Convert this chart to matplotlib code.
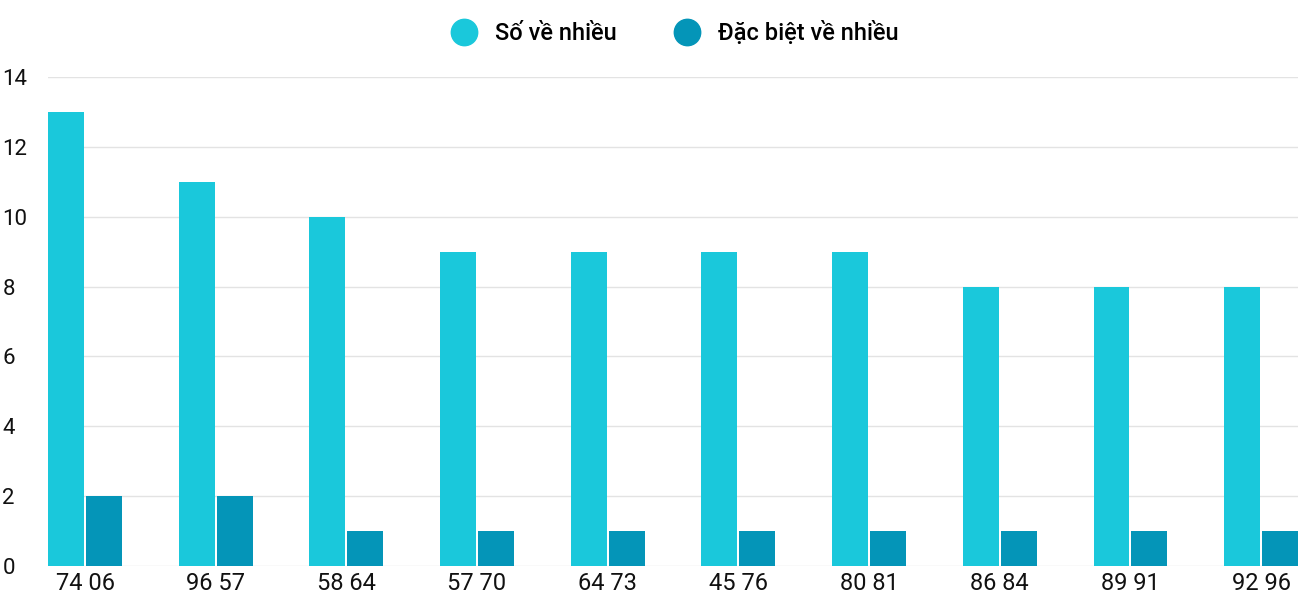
import matplotlib
matplotlib.use("Agg")
import matplotlib.pyplot as plt
from matplotlib.lines import Line2D

pairs = [("74","06"),("96","57"),("58","64"),("57","70"),("64","73"),
         ("45","76"),("80","81"),("86","84"),("89","91"),("92","96")]
so_ve_nhieu = [13,11,10,9,9,9,9,8,8,8]
dac_biet = [2,2,1,1,1,1,1,1,1,1]
series_names = ["Số về nhiều", "Đặc biệt về nhiều"]
colors = ["#1AC8DB", "#0495B8"]

plt.rcParams['font.family'] = ['Roboto', 'DejaVu Sans']
fig = plt.figure(figsize=(13, 6), dpi=100)
ax = fig.add_axes([0.037, 0.0567, 0.9615, 0.815])

off, w = 0.145, 0.275
xs1 = [i - off for i in range(len(pairs))]
xs2 = [i + off for i in range(len(pairs))]
ax.bar(xs1, so_ve_nhieu, width=w, color=colors[0], zorder=3)
ax.bar(xs2, dac_biet, width=w, color=colors[1], zorder=3)

ax.set_xticks(range(len(pairs)))
ax.set_xticklabels([f"{a} {b}" for a, b in pairs], fontsize=17, color="#111111")
ax.set_xlim(-off - w/2, len(pairs) - 1 + off + w/2)
ax.set_ylim(0, 14)
ax.set_yticks(range(0, 15, 2))
ax.tick_params(axis='y', labelsize=16, length=0, pad=33, labelcolor="#111111")
ax.tick_params(axis='x', length=0, pad=4)
for lbl in ax.get_yticklabels():
    lbl.set_horizontalalignment('left')
ax.grid(axis='y', color="#E3E3E3", linewidth=1, zorder=0)
for s in ax.spines.values():
    s.set_visible(False)

handles = [Line2D([], [], marker='o', linestyle='', markersize=19, color=c) for c in colors]
fig.legend(handles, series_names, loc='upper center', bbox_to_anchor=(0.515, 1.0),
           ncol=2, frameon=False, fontsize=17, handletextpad=0.3, columnspacing=2.0,
           prop={'size': 17, 'weight': 'medium'})
fig.savefig("out.png")
